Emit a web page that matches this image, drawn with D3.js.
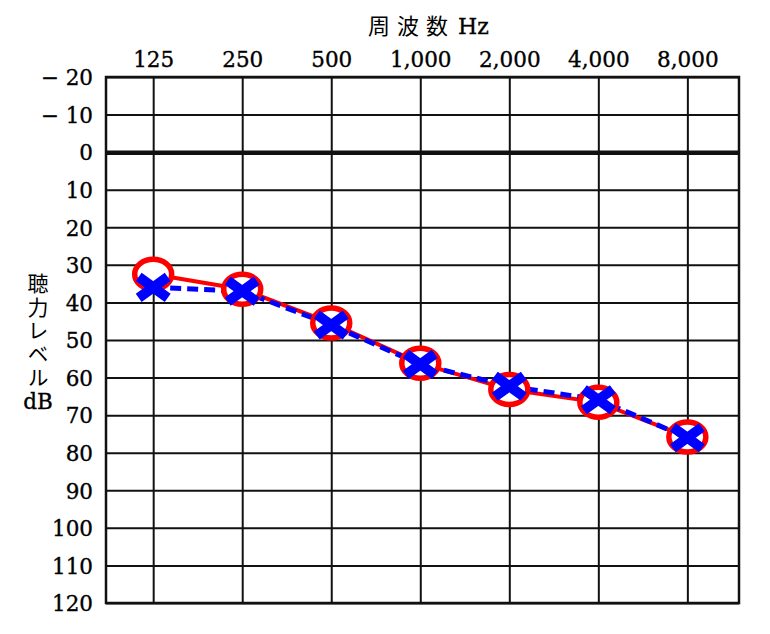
<!DOCTYPE html>
<html><head><meta charset="utf-8">
<script src="https://cdn.jsdelivr.net/npm/d3@7"></script>
<style>
html,body{margin:0;padding:0;background:#fff;}
svg{display:block;}
</style>
</head><body>
<svg id="chart" width="770" height="634"></svg>
<script>
// ---- data ----
const frequencies = ["125", "250", "500", "1,000", "2,000", "4,000", "8,000"];
const dbTicks = [-20, -10, 0, 10, 20, 30, 40, 50, 60, 70, 80, 90, 100, 110, 120];
const rightEar = [32.5, 36.5, 45.5, 56.2, 63.2, 66.6, 75.8];   // red circles, solid line
const leftEar  = [36, 37, 46, 56.5, 62.3, 65.9, 76];           // blue crosses, dashed line
const xTitle = "周波数";
const xUnit = "Hz";
const yTitle = "聴力レベル";
const yUnit = "dB";

// ---- layout ----
const svg = d3.select("#chart");
const pL = 106, pR = 739, pT = 77, pB = 603;
const x = d3.scaleLinear().domain([-0.53, 6.58]).range([pL, pR]);
const y = d3.scaleLinear().domain([-20, 120]).range([pT, pB]);
const serif = "'DejaVu Serif', serif";
const cjk = "'Noto Sans CJK JP', sans-serif";

// background
svg.append("rect").attr("width", 770).attr("height", 634).attr("fill", "#fff");

// x axis (top) with vertical grid lines
const xAxis = d3.axisTop(x)
  .tickValues(d3.range(frequencies.length))
  .tickFormat(i => frequencies[i])
  .tickSizeInner(-(pB - pT)).tickSizeOuter(0).tickPadding(10);
const gx = svg.append("g").attr("transform", `translate(0,${pT})`).call(xAxis);
gx.select(".domain").remove();
gx.selectAll(".tick line").attr("stroke", "#111").attr("stroke-width", 2);
gx.selectAll(".tick text").attr("font-family", serif).attr("font-size", 21.5).attr("fill", "#000")
  .attr("stroke", "#000").attr("stroke-width", 0.35);

// y axis (left) with horizontal grid lines
const yAxis = d3.axisLeft(y)
  .tickValues(dbTicks)
  .tickFormat(d => d < 0 ? "− " + Math.abs(d) : String(d))
  .tickSizeInner(-(pR - pL)).tickSizeOuter(0).tickPadding(13);
const gy = svg.append("g").attr("transform", `translate(${pL},0)`).call(yAxis);
gy.select(".domain").remove();
gy.selectAll(".tick line").attr("stroke", "#111").attr("stroke-width", d => d === 0 ? 4.5 : 2);
gy.selectAll(".tick text").attr("font-family", serif).attr("font-size", 21.5).attr("fill", "#000")
  .attr("stroke", "#000").attr("stroke-width", 0.35).attr("dy", "0.36em");

// frame
svg.append("rect").attr("x", pL).attr("y", pT).attr("width", pR - pL).attr("height", pB - pT)
  .attr("fill", "none").attr("stroke", "#111").attr("stroke-width", 2.5);

// x title
const tx = svg.append("text").attr("x", 368).attr("y", 34).attr("fill", "#000");
tx.append("tspan").attr("font-family", cjk).attr("font-size", 22).attr("letter-spacing", 7).text(xTitle);
tx.append("tspan").attr("font-family", serif).attr("font-size", 22).attr("dx", 3)
  .attr("stroke", "#000").attr("stroke-width", 0.35).text(xUnit);

// y title (vertical writing)
svg.append("text").attr("x", 38).attr("y", 273)
  .attr("writing-mode", "vertical-rl").attr("text-orientation", "upright")
  .attr("font-family", cjk).attr("font-size", 21).attr("letter-spacing", 2.3).attr("fill", "#000")
  .text(yTitle);
svg.append("text").attr("x", 38).attr("y", 409).attr("text-anchor", "middle")
  .attr("font-family", serif).attr("font-size", 21.5).attr("fill", "#000")
  .attr("stroke", "#000").attr("stroke-width", 0.35).text(yUnit);

// lines
const line = d3.line().x((d, i) => x(i)).y(d => y(d));
svg.append("path").datum(rightEar).attr("d", line).attr("fill", "none")
  .attr("stroke", "#ff0000").attr("stroke-width", 4);
svg.append("path").datum(leftEar).attr("d", line).attr("fill", "none")
  .attr("stroke", "#0000ff").attr("stroke-width", 5).attr("stroke-dasharray", "11,6");

// red circles
svg.append("g").selectAll("ellipse").data(rightEar).join("ellipse")
  .attr("cx", (d, i) => x(i)).attr("cy", d => y(d))
  .attr("rx", 18.5).attr("ry", 15)
  .attr("fill", "#fff").attr("stroke", "#ff0000").attr("stroke-width", 5.5);

// blue crosses
svg.append("g").selectAll("path").data(leftEar).join("path")
  .attr("transform", (d, i) => `translate(${x(i)},${y(d)})`)
  .attr("d", "M-14.5,-10.5L14.5,10.5M-14.5,10.5L14.5,-10.5")
  .attr("fill", "none").attr("stroke", "#0000ff").attr("stroke-width", 10);
</script>
</body></html>
